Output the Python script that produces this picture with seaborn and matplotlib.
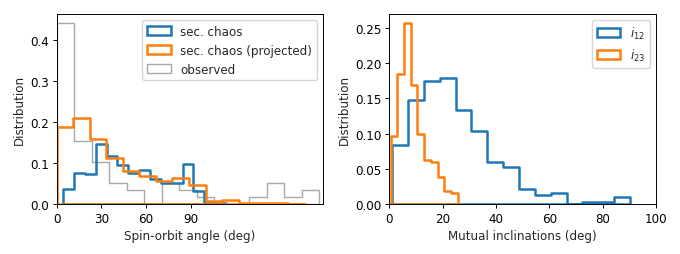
import numpy as np
import pandas as pd
import matplotlib
matplotlib.use("Agg")
import matplotlib.pyplot as plt
import seaborn as sns

# ---------------- data (fraction of systems per bin) ----------------
# Left panel: spin-orbit angle (deg)
chaos_range = (4.4, 113.8)
chaos_heights = [0.037, 0.075, 0.072, 0.147, 0.118, 0.095, 0.076, 0.082,
                 0.062, 0.050, 0.050, 0.097, 0.031, 0.004, 0.003]
proj_range = (0.0, 166.7)
proj_heights = [0.187, 0.209, 0.159, 0.112, 0.080, 0.069, 0.056, 0.064,
                0.047, 0.008, 0.009, 0.003, 0.003, 0.002, 0.001]
obs_range = (0.0, 176.4)
obs_counts = [26, 9, 6, 3, 2, 0, 3, 2, 1, 0, 0, 1, 3, 1, 2]

# Right panel: mutual inclinations (deg)
i12_range = (1.1, 90.25)
i12_heights = [0.084, 0.147, 0.175, 0.1785, 0.134, 0.103, 0.060, 0.053,
               0.021, 0.013, 0.016, 0.0, 0.003, 0.003, 0.0095]
i23_range = (0.5, 25.65)
i23_heights = [0.096, 0.185, 0.257, 0.169, 0.099, 0.063, 0.059, 0.038,
               0.019, 0.015]

left_ticks = [0, 30, 60, 90]
right_ticks = [0, 20, 40, 60, 80, 100]

labels_left = ["sec. chaos", "sec. chaos (projected)", "observed"]
labels_right = ["$i_{12}$", "$i_{23}$"]

# ---------------- style ----------------
sns.set_style("ticks")
FS = 8.6
plt.rcParams.update({
    "font.family": ["DejaVu Sans"],
    "font.size": FS,
    "axes.labelsize": FS,
    "xtick.labelsize": FS,
    "ytick.labelsize": FS,
    "legend.fontsize": FS,
    "axes.edgecolor": "black",
    "axes.linewidth": 0.7,
    "xtick.color": "black",
    "ytick.color": "black",
    "xtick.major.size": 3.0,
    "ytick.major.size": 3.0,
    "xtick.major.width": 0.7,
    "ytick.major.width": 0.7,
    "xtick.major.pad": 2.5,
    "ytick.major.pad": 2.5,
    "axes.labelpad": 3.0,
})

BLUE = "#1f77b4"
ORANGE = "#ff7f0e"
GRAY = "#a8a8a8"


def step_hist(ax, rng, heights, color, lw, label, zorder):
    heights = np.asarray(heights, dtype=float)
    edges = np.linspace(rng[0], rng[1], len(heights) + 1)
    centers = 0.5 * (edges[:-1] + edges[1:])
    df = pd.DataFrame({"x": centers, "w": heights})
    sns.histplot(data=df, x="x", weights="w", bins=edges.tolist(),
                 element="step", fill=True, color=color, facecolor="none",
                 edgecolor=color, linewidth=lw, label=label, ax=ax,
                 zorder=zorder)


fig = plt.figure(figsize=(6.8, 2.55), dpi=100)
ax1 = fig.add_axes([56.7 / 680, 50 / 255, 266.3 / 680, 190 / 255])
ax2 = fig.add_axes([389.3 / 680, 50 / 255, 266.7 / 680, 190 / 255])

obs_heights = np.array(obs_counts, dtype=float) / np.sum(obs_counts)
step_hist(ax1, obs_range, obs_heights, GRAY, 1.0, labels_left[2], 1)
step_hist(ax1, chaos_range, chaos_heights, BLUE, 1.8, labels_left[0], 2)
step_hist(ax1, proj_range, proj_heights, ORANGE, 1.8, labels_left[1], 3)

ax1.set_xlim(0, 179)
ax1.set_ylim(0, max(obs_heights) * 1.05)
ax1.set_xticks(left_ticks)
ax1.set_yticks([0.0, 0.1, 0.2, 0.3, 0.4])
ax1.set_xlabel("Spin-orbit angle (deg)")
ax1.set_ylabel("Distribution")
h, l = ax1.get_legend_handles_labels()
order = [l.index(s) for s in labels_left]
ax1.legend([h[i] for i in order], [l[i] for i in order], loc="upper right",
           frameon=True, fancybox=True, framealpha=0.8, edgecolor="#cccccc")

step_hist(ax2, i12_range, i12_heights, BLUE, 1.8, labels_right[0], 2)
step_hist(ax2, i23_range, i23_heights, ORANGE, 1.8, labels_right[1], 3)
ax2.set_xlim(0, 100)
ax2.set_ylim(0, max(i23_heights) * 1.05)
ax2.set_xticks(right_ticks)
ax2.set_yticks([0.0, 0.05, 0.10, 0.15, 0.20, 0.25])
ax2.set_yticklabels(["0.00", "0.05", "0.10", "0.15", "0.20", "0.25"])
ax2.set_xlabel("Mutual inclinations (deg)")
ax2.set_ylabel("Distribution")
ax2.legend(loc="upper right", frameon=True, fancybox=True, framealpha=0.8,
           edgecolor="#cccccc")

for ax in (ax1, ax2):
    for s in ax.spines.values():
        s.set_visible(True)
        s.set_zorder(5)

fig.savefig("out.png", dpi=100)
